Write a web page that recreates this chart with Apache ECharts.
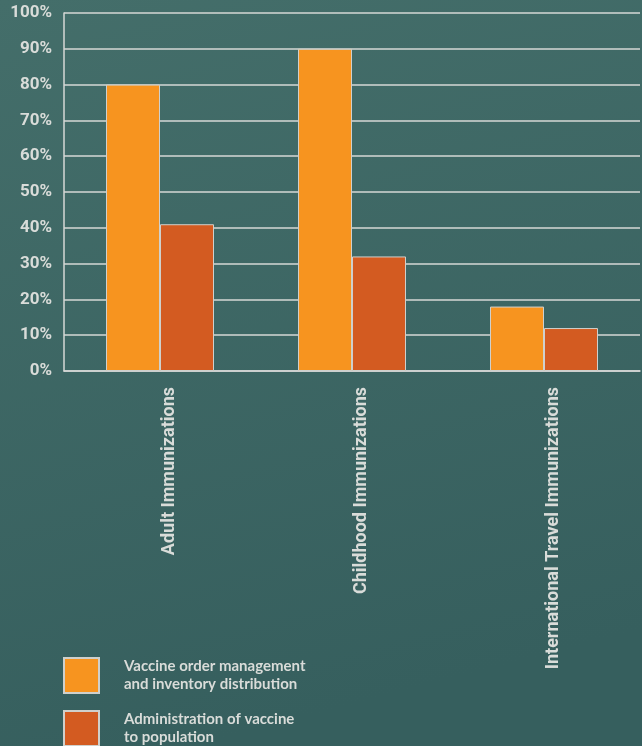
<!DOCTYPE html>
<html>
<head>
<meta charset="utf-8">
<script src="https://cdn.jsdelivr.net/npm/echarts@6/dist/echarts.min.js"></script>
<style>
  html, body { margin: 0; padding: 0; }
  #chart { width: 642px; height: 746px; }
</style>
</head>
<body>
<div id="chart"></div>
<script>
// Survey categories along the x axis
const categories = ['Adult Immunizations', 'Childhood Immunizations', 'International Travel Immunizations'];
// Share of respondents (percent) for each use
const orderMgmt = [80, 90, 18];
const administration = [41, 32, 12];
const seriesNames = [
  'Vaccine order management\nand inventory distribution',
  'Administration of vaccine\nto population'
];
const yTicks = [0, 10, 20, 30, 40, 50, 60, 70, 80, 90, 100];

const narrow = "Roboto, 'Liberation Sans Narrow', Arial, sans-serif";
const textColor = '#d9dcd9';
const lineColor = '#d6d8d6';

// one vertical legend block per series, stacked at the bottom left
const legendText = {
  color: textColor,
  fontFamily: "Lato, 'Open Sans', sans-serif",
  fontWeight: 'bold',
  fontSize: 15,
  lineHeight: 18,
  padding: [0, 0, 0, 20]
};
const legendBase = {
  orient: 'vertical',
  left: 63,
  padding: 0,
  icon: 'rect',
  itemWidth: 35, itemHeight: 35,
  textStyle: legendText
};

const chart = echarts.init(document.getElementById('chart'));
chart.setOption({
  backgroundColor: {
    type: 'linear', x: 0, y: 0, x2: 0.3, y2: 1,
    colorStops: [
      { offset: 0, color: '#446e6a' },
      { offset: 1, color: '#365f5e' }
    ]
  },
  animation: false,
  grid: { left: 64, right: 2, top: 13, bottom: 375, containLabel: false },
  legend: [
    Object.assign({}, legendBase, { top: 657, data: [seriesNames[0]] }),
    Object.assign({}, legendBase, { top: 710, data: [seriesNames[1]] })
  ],
  xAxis: {
    type: 'category',
    data: categories,
    axisLine: { show: true, lineStyle: { color: lineColor, width: 1.5 } },
    axisTick: { show: false },
    splitLine: { show: false },
    axisLabel: {
      rotate: 90,
      margin: 16,
      interval: 0,
      color: textColor,
      fontFamily: narrow,
      fontWeight: 'bold',
      fontSize: 18,
      lineHeight: 18,
      verticalAlign: 'top'
    }
  },
  yAxis: {
    type: 'value',
    min: 0, max: 100, interval: 10,
    axisLine: { show: true, lineStyle: { color: lineColor, width: 1.5 } },
    axisTick: { show: false },
    splitLine: { show: true, lineStyle: { color: lineColor, width: 1.5 } },
    axisLabel: {
      margin: 12,
      color: textColor,
      fontFamily: narrow,
      fontWeight: 'bold',
      fontSize: 17,
      formatter: v => yTicks.includes(v) ? v + '%' : ''
    }
  },
  series: [
    {
      name: seriesNames[0],
      type: 'bar',
      data: orderMgmt,
      barWidth: 54,
      barGap: '0%',
      itemStyle: { color: '#f7941f', borderColor: '#cfd0cc', borderWidth: 1 }
    },
    {
      name: seriesNames[1],
      type: 'bar',
      data: administration,
      barWidth: 54,
      itemStyle: { color: '#d35b21', borderColor: '#cfd0cc', borderWidth: 1 }
    }
  ]
});
</script>
</body>
</html>
